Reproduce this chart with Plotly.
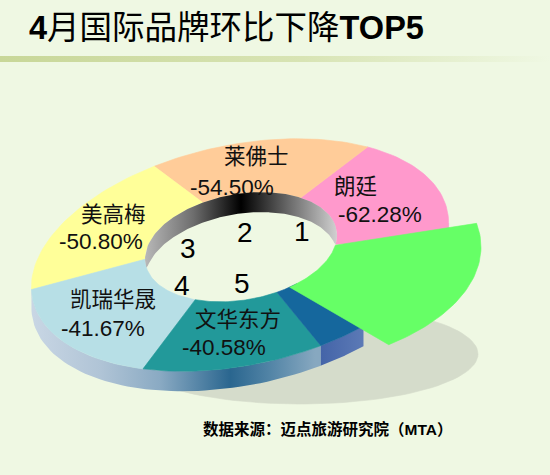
import numpy as np
import plotly.graph_objects as go

# ranking data
brands = ["朗廷", "莱佛士", "美高梅", "凯瑞华晟", "文华东方"]
change = [-62.28, -54.50, -50.80, -41.67, -40.58]
ranks = ["1", "2", "3", "4", "5"]

# ring slices as drawn in the picture (degrees), counter-clockwise from the right
slice_deg = [61, 62, 67, 61, 50.5, 13.5, 45]
slice_colors = ["#ff99cc", "#ffcc99", "#ffff99", "#b7dfe6", "#22999a", "#15679d", "#66ff66"]
start_deg = -15

BG = "#eff8e3"
FONT = "Liberation Sans, Arial, Noto Sans CJK SC"

# ellipse geometry of the tilted ring (screen pixels)
OUTER = dict(cx=240, cy=255, a=212, b=110, phi=12)
HOLE = dict(cx=241, cy=247, a=97, b=53, phi=10)
GREEN_OUT = dict(cx=241, cy=247, a=240, b=124, phi=0)
DEPTH = 20


def ell(e, th_deg):
    th = np.radians(np.asarray(th_deg, dtype=float))
    ph = np.radians(e["phi"])
    up = e["a"] * np.cos(th)
    vp = e["b"] * np.sin(th)
    u = up * np.cos(ph) - vp * np.sin(ph)
    v = up * np.sin(ph) + vp * np.cos(ph)
    return e["cx"] + u, e["cy"] - v


def x_extreme(e):
    ph = np.radians(e["phi"])
    return np.degrees(np.arctan2(-e["b"] * np.sin(ph), e["a"] * np.cos(ph)))


def poly(xs, ys, color, grad=None):
    tr = go.Scatter(x=list(xs) + [xs[0]], y=list(ys) + [ys[0]], mode="lines",
                    fill="toself", line=dict(width=0.6, color=color),
                    fillcolor=color, hoverinfo="skip")
    if grad is not None:
        tr.update(fillgradient=grad, line=dict(width=0))
    return tr


fig = go.Figure()

# title underline
fig.add_trace(poly([0, 550, 550, 0], [56, 56, 62, 62], "#d0dca8",
                   grad=dict(type="horizontal", start=0, stop=550,
                             colorscale=[[0, "rgb(200,215,152)"], [0.55, "rgb(216,228,180)"],
                                         [1, BG]])))

# shadow
t = np.linspace(0, 360, 120)
fig.add_trace(poly(300 + 178 * np.cos(np.radians(t)), 354 - 50 * np.sin(np.radians(t)), "#d5dccb"))

# slice boundaries
bounds = start_deg + np.concatenate([[0], np.cumsum(slice_deg)])
right = x_extreme(OUTER)
left = right + 180

# outer side wall (front half only, where slices exist)
side_cs = [[0, "rgb(200,214,228)"], [0.24, "rgb(176,196,214)"], [0.45, "rgb(138,170,195)"],
           [0.70, "rgb(42,102,143)"], [0.84, "rgb(82,132,166)"], [1, "rgb(135,168,192)"]]
spans = [(left, bounds[5], dict(type="horizontal", start=33, stop=315, colorscale=side_cs)),
         (bounds[5], bounds[6], dict(type="horizontal", colorscale=[[0, "rgb(68,100,168)"], [1, "rgb(92,122,182)"]])),
         (bounds[0] + 360, right + 360, None)]
for a0, a1, g in spans:
    th = np.linspace(a0, a1, 60)
    x, y = ell(OUTER, th)
    fig.add_trace(poly(np.concatenate([x, x[::-1]]), np.concatenate([y, y[::-1] + DEPTH]),
                       "#c6d6e2", grad=g))

# top surface slices (all but the pulled-out one)
for i in range(6):
    th = np.linspace(bounds[i], bounds[i + 1], 40)
    xo, yo = ell(OUTER, th)
    xi, yi = ell(HOLE, th[::-1])
    fig.add_trace(poly(np.concatenate([xo, xi]), np.concatenate([yo, yi]), slice_colors[i]))

# inner wall of the hole
hr = x_extreme(HOLE)
xu, yu = ell(HOLE, np.linspace(hr, hr + 180, 200))
xl, yl = ell(HOLE, np.linspace(hr + 180, hr + 360, 200))
xs = np.linspace(xl[0] + 0.05, xl[-1] - 0.05, 150)
y_top = np.interp(xs, xu[::-1], yu[::-1])
y_bot = np.interp(xs, xl, yl)
y_low = np.minimum(y_top + DEPTH, y_bot)
wall_cs = [[0, "#b8b8b8"], [0.25, "#6e6e6e"], [0.5, "#000000"], [0.75, "#6a6a6a"], [1, "#d0d0d0"]]
fig.add_trace(poly(np.concatenate([xs, xs[::-1]]), np.concatenate([y_top, y_low[::-1]]), "#555",
                   grad=dict(type="horizontal", colorscale=wall_cs)))

# pulled-out slice
g0, g1 = bounds[6], bounds[7]
xo, yo = ell(GREEN_OUT, np.linspace(g0 + 8, g1 + 26, 50))
xi, yi = ell(HOLE, np.linspace(g1 - 1, g0 - 5, 40))
fig.add_trace(poly(np.concatenate([xo, xi]), np.concatenate([yo, yi]), slice_colors[6]))

# labels
name_pos = [(355, 187), (256, 157), (113, 215), (113, 300), (238, 320)]
pct_pos = [(380, 214), (232, 187), (101, 241), (103, 328), (224, 347)]
rank_pos = [(302, 231), (245, 232), (188, 248), (182, 285), (242, 283)]
for name, val, rk, npos, ppos, rpos in zip(brands, change, ranks, name_pos, pct_pos, rank_pos):
    fig.add_annotation(x=npos[0], y=npos[1], text=name, showarrow=False,
                       font=dict(family=FONT, size=21.5, color="#111"))
    fig.add_annotation(x=ppos[0], y=ppos[1], text=f"{val:.2f}%", showarrow=False,
                       font=dict(family=FONT, size=22.5, color="#111"))
    fig.add_annotation(x=rpos[0], y=rpos[1], text=rk, showarrow=False,
                       font=dict(family=FONT, size=28, color="#000"))

fig.add_annotation(x=27, y=28, xanchor="left", text="<b>4</b>月国际品牌环比下降<b>TOP5</b>",
                   showarrow=False, font=dict(family=FONT, size=32.5, color="#000"))
fig.add_annotation(x=327, y=429, text="<b>数据来源：迈点旅游研究院（MTA）</b>",
                   showarrow=False, font=dict(family=FONT, size=15.5, color="#000"))

fig.update_layout(
    width=550, height=475,
    margin=dict(l=0, r=0, t=0, b=0),
    paper_bgcolor=BG, plot_bgcolor=BG,
    showlegend=False, hovermode=False,
    xaxis=dict(range=[0, 550], visible=False, fixedrange=True),
    yaxis=dict(range=[475, 0], visible=False, fixedrange=True),
)

fig.write_html("out.html", config={"displayModeBar": False},
               post_script="document.body.style.margin='0';"
                           f"document.body.style.background='{BG}';")
